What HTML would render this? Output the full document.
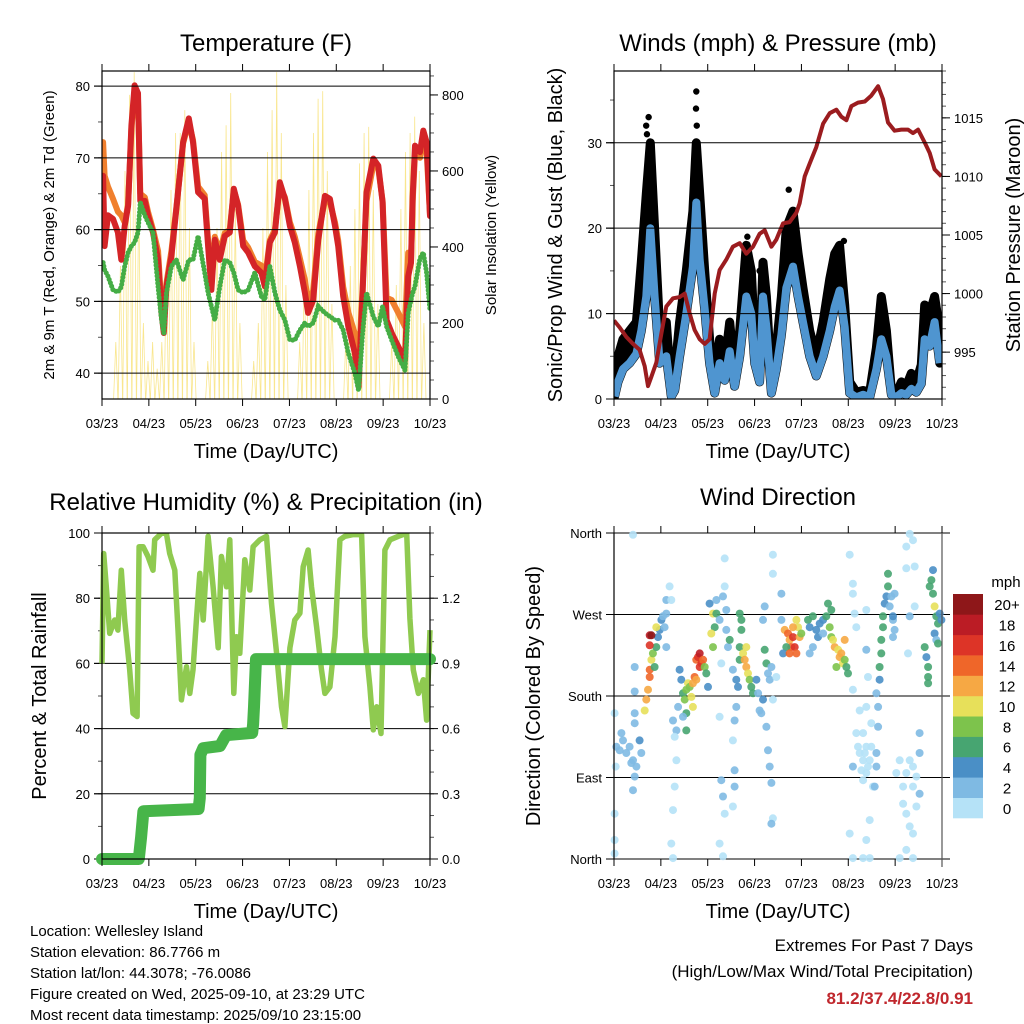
<!DOCTYPE html>
<html><head><meta charset="utf-8"><style>
html,body{margin:0;padding:0;background:#fff;}
svg{display:block;font-family:"Liberation Sans",Arial,sans-serif;}
</style></head><body>
<svg id="fig" width="1024" height="1024" viewBox="0 0 1024 1024">
<rect x="0" y="0" width="1024" height="1024" fill="#fff"/>
<g id="layer"></g>
<g font-size="15" fill="#000">
<text x="30" y="936">Location: Wellesley Island</text>
<text x="30" y="957">Station elevation: 86.7766 m</text>
<text x="30" y="978">Station lat/lon: 44.3078; -76.0086</text>
<text x="30" y="999">Figure created on Wed, 2025-09-10, at 23:29 UTC</text>
<text x="30" y="1020">Most recent data timestamp: 2025/09/10 23:15:00</text>
</g>
<g text-anchor="end">
<text x="973" y="951" font-size="17">Extremes For Past 7 Days</text>
<text x="973" y="977" font-size="17">(High/Low/Max Wind/Total Precipitation)</text>
<text x="973" y="1004" font-size="17" font-weight="bold" fill="#c0272d">81.2/37.4/22.8/0.91</text>
</g>
</svg>
<script>
// ---------- data ----------
var monthLabels = ["03/23","04/23","05/23","06/23","07/23","08/23","09/23","10/23"];
var tempDays = [0.7,1.7,3.9,7.2,10.4,12.6,14.8,17,19.2,21.3,23.5,25,27.9,30,33.3,36.6,38.8,40.3,42,45.3,48.5,52.9,56.6,59.4,62.7,67,69.2,71.4,73.6,76.8,80.1,83.4,86,88.8,92.1,95.4,99.7,104,106.2,109.5,112.8,116,119.3,122.6,125.8,129.1,132.4,134.5,137.8,141.1,145.4,148.7,152,154.1,157.4,160.7,165,167.4,170,172.6,177,180.3,183.1,185.7,189,193.3,197.7,199.8,201.6,202.7,204.2,207.5,209.6,211.8,214];
var temp2m = [67.5,57.7,62,61.5,59.6,55.8,60.5,63.3,74.5,80.1,79,64,64,62,59.6,55.8,48.4,45.6,52,56.3,62.8,72.2,75.5,72.2,65.2,64.3,57.7,51.6,58.6,55.8,59.1,59.6,65.7,63.3,57.7,56.8,54.9,54,52.1,58.2,59.6,66.6,64.3,60.5,58.2,54.9,51.2,48.4,50.2,58.6,64.7,64.3,60.5,57.7,50.7,46.5,42.8,38.1,51.2,65.2,69.9,68.9,63.8,47.4,45.6,43.7,41.8,53.5,55.4,64.7,71.7,70.8,73.8,72.2,61.9];
var temp9m = [72.2,67.5,66,64.3,62.5,62,61,63.5,74,79,78,65,64.5,62.5,60,57,49,46,52.5,57,63,72,75,72.5,66,64.8,58.5,52.5,59,57,59.5,60,65.5,63.5,58.5,57.5,55.5,55,53,58.5,60,66,64.5,61,59,56,53,50,51.5,59.5,64,63.8,61,58.5,52,48.5,45.5,41,52,64,69,68.5,64,50.5,50.2,48.4,46.5,56.8,55.4,64,70.5,70,72.5,71,62];
var dewpoint = [55.4,54.4,53.5,51.6,51.3,52,54.9,56.8,57.7,58.2,59.6,63.8,62,61,59.6,52,47.4,45.6,51.2,54.9,55.8,53,55.8,55.8,59.1,54,51.2,49.3,47.4,52,55.8,55.4,54,51.6,51.2,51.6,54,50.7,50.2,54.9,51.2,48.8,47.4,44.6,44.6,46,47,46.5,47,49.3,48.4,47.9,47.4,47.4,46,42.8,40,37.6,45.6,51.2,47.9,46.5,49.3,46.5,44.6,42.3,40.4,48.4,50.2,51.2,52.1,56,56.8,54,48.8];
var solarPeaks = [0,0,0,150,350,600,800,860,550,200,100,150,80,150,350,550,700,700,760,450,150,0,0,100,250,450,650,720,805,500,200,0,0,100,200,450,650,760,860,700,300,0,0,150,350,550,700,790,810,600,250,0,0,150,350,500,620,700,716,550,250,0,0,150,300,500,650,700,743,600,200,0];
var sampleDays = [0.4,2.6,5.9,10.2,14.6,17.8,21.1,23.7,26.5,29.8,34.1,37.4,39.6,42.8,47.2,51.5,53.7,55.9,59.2,62.4,65.7,68.9,72.2,75.5,78.7,82,86.3,89.6,91.8,95,97.2,99.4,102.7,105.9,109.2,112.4,116.8,120.1,123.3,127.7,132,136.4,140.7,144,147.2,150.5,153.8,158.1,162.5,166.8,171.2,174.4,177.7,181,184.2,187.5,190.7,194,197.3,200.5,202.7,206,209.2,212.5];
var windSpeed = [0.3,2,3.5,4.2,5.3,8,12,20,12,4.2,5,0.3,1,5,10,15.5,23,16.3,10.5,4.2,0.7,4.2,2.2,5.6,1.5,5,12,10,4.2,2,12,8.4,0.7,3.5,7.5,13,15.5,12,9,5,2.7,5,8,10.8,12.7,8.4,0.7,0.2,0.5,0.2,3.5,7,5,0.5,0.2,0.7,0.5,1.2,0.8,1.8,7,6.2,9,4.2];
var gustSpeed = [1,5,7,8,9,16,24,30,20,8,9,1,3,9,15,22,30,24,15,7,2,7,4,9,3,8,18,15,7,4,16,12,2,6,12,20,22,17,13,8,5,9,14,17,18,11,2,0.8,1,0.8,6,12,8,1,0.6,2,1.5,3,2,4,11,10,12,8];
var gustPeakDays = [21,21.5,22,22.6,53.7,53.5,54,53,87,95,114,150];
var gustPeakVals = [32,31,28,33,36,34,32,30,19,15,24.5,18.5];
var presDays = [0,3.7,8,12.4,16.7,20,22.2,24.4,27.6,30.9,34.1,38.5,42.8,46.1,49.4,52.6,55.9,59.2,62.4,65.7,68.9,73.3,77.6,82,86.3,90.7,95,98.3,102.7,105.9,110.3,114.6,119,121.1,124.4,127.7,132,136.4,140.7,145.1,148.3,151.6,154.9,159.2,163.6,167.9,172.3,175.5,178.8,183.1,187.5,191.8,195.1,198.4,202.7,206,209.2,213.6];
var pressure = [997.7,997.1,996.3,995.7,995.2,993.8,992.1,992.9,994.1,996.6,998.9,999.6,999.7,1000,998.3,996.9,996.1,995.7,996.1,1000,1002,1002.9,1004,1004.3,1003.4,1004,1005.1,1005.4,1004,1004.6,1006,1006.1,1006.9,1007.7,1010,1011.1,1012.5,1014.5,1015.4,1015.7,1015.1,1014.8,1016,1016.3,1016.4,1016.9,1017.7,1016.6,1014.6,1013.9,1014,1014,1013.7,1014,1012.9,1012,1010.6,1010];
var rhDays = [0,1.1,2.8,5,8.3,10.4,12.6,14.8,18.1,20.2,22.9,24.2,26.8,30,33.3,34.4,38.8,42,44.2,47.5,49.6,51.8,55.1,57.3,59.4,61.6,63.8,66,69.2,72.5,75.8,77.9,81.2,83.4,86,87.7,89.9,93.2,96.4,98.6,103,107.3,110.6,113.9,117.1,119.3,122.6,125.8,129.1,131.3,134.5,136.7,140,143.2,145.4,148.7,152,155.2,158.5,163.9,169.4,171.5,174.8,177,179.2,182,184.6,187.9,193.3,198.8,200.9,203.1,206.4,209.6,211.8,214];
var rhValues = [60,93.7,83.5,69.2,73.3,70.2,88.6,73.3,58,44.7,43.7,95.8,95.8,92.8,88.6,97.9,99.9,99.9,93.7,88.6,70.2,48.8,59,50.8,58,73.3,87.6,73.3,99,83.5,64.8,92.8,83.5,97.9,50.8,68.2,63.1,91.8,82.5,95.8,97.9,99,78.4,63.1,46.7,40.6,64.8,73.3,75.4,89.7,94.8,83.5,71.2,58,50.8,52.8,68.2,97.9,99,99.5,99.5,68.2,52.8,39.6,46.7,38.5,94.8,97.9,99,99.9,73.8,58,50.8,55,42.6,70.2];
var rainDays = [0,24,25.5,27,63,63.8,64.2,66,77,81,98,98.6,99.2,100.5,214];
var rainTotal = [0,0,0.1,0.22,0.23,0.28,0.48,0.51,0.52,0.57,0.58,0.62,0.7,0.92,0.92];
var dirDays = [1.5,3.7,5.9,8,10.2,12.4,14.6,16.7,17.8,4.8,11.3,13.5,12.4,1.1,0.4,0.4,0.4,0.4,12.4,13.5,13.5,13.5,13.5,
20,21.1,22.2,23.3,23.3,24.4,25.4,26.5,27.6,28.7,29.8,30.9,32,34.1,23.3,24.4,23.3,27.6,33,34.1,34.1,36.3,37.4,
38.5,40.7,41.8,39.6,40.7,39.6,38.5,37.4,38.5,
42.8,43.9,45,46.1,47.2,48.3,49.4,50.5,51.5,52.6,53.7,54.8,55.9,57,55.9,58.1,59.2,60.2,61.3,53.7,47.2,51.5,47.2,45,
62.4,64.6,66.8,65.7,63.5,64.6,66.8,68.9,71.1,72.2,73.3,74.4,75.5,70,68.9,70,71.1,72.2,68.9,71.1,72.2,73.3,
79.8,80.9,82,82,83.1,84.2,85.3,86.3,87.4,88.5,89.6,90.7,86.3,82,83.1,77.6,79.8,78.7,77.6,78.7,78.7,77.6,
92.9,94,95,96.1,97.2,98.3,99.4,100.5,101.6,102.7,97.2,98.3,99.4,100.5,101.6,102.7,103.7,102.7,103.7,109.2,109.2,103.7,103.7,105.9,
111.4,113.5,114.6,115.7,116.8,117.9,119,121.1,120.1,122.2,112.4,110.3,116.8,119,114.6,
126.6,127.7,129.8,132,133.1,134.2,136.4,138.5,139.6,140.7,141.8,141.8,127.7,129.8,136.4,
144,146.2,147.2,148.3,149.4,150.5,151.6,152.7,145.1,142.9,150.5,
153.8,155.9,155.9,157,158.1,155.9,160.3,162.5,164.6,166.8,162.5,160.3,164.6,169,158.1,155.9,164.6,167.9,166.8,164.6,153.8,155.9,162.5,166.8,164.6,164.6,165.7,159.2,163.6,161.4,165.7,167.9,162.5,
171.2,172.3,172.3,171.2,171.2,170.1,173.3,173.3,174.4,174.4,175.5,175.5,176.6,177.7,178.8,178.8,179.9,181,182,183.1,182,183.1,182,
184.2,186.4,188.6,190.7,192.9,195.1,195.1,197.3,190.7,192.9,195.1,197.3,199.4,199.4,199.4,188.6,191.8,190.7,196.2,190.7,192.9,195.1,192.9,196.2,195.1,186.4,190.7,
202.7,203.8,204.9,204.9,204.9,206,207.1,208.1,209.2,210.3,211.4,212.5,213.6,208.1,209.2,210.3,211.4];
var dirDeg = [124,120,131,117,124,109,102,131,117,139,106,91,76,102,161,50,21,6,358,212,161,150,185,
164,176,187,201,209,220,227,212,234,245,253,264,268,271,247,247,236,256,256,286,234,301,286,
153,142,168,135,109,80,54,17,1,
209,198,183,176,187,194,190,179,194,201,220,223,227,216,212,220,212,205,190,198,161,168,142,157,
282,271,271,256,249,234,286,264,290,301,253,234,242,216,157,87,69,50,17,3,332,275,
198,190,234,220,253,227,220,212,205,198,190,183,234,271,264,209,168,153,131,98,80,58,
198,183,164,161,176,231,216,205,198,212,264,279,146,120,102,84,45,39,176,293,264,336,315,201,
253,249,242,234,245,234,227,245,256,249,234,227,256,264,227,
264,256,268,253,245,260,264,268,282,256,245,275,227,234,249,
234,231,223,227,216,220,212,205,212,242,242,
336,304,293,271,256,187,164,139,124,109,109,117,95,80,139,102,168,150,43,21,28,1,1,1,275,231,201,124,117,98,102,124,87,
183,168,146,117,102,80,198,212,227,242,256,268,282,290,301,315,279,290,264,253,245,293,268,
95,109,80,95,109,102,80,91,50,36,28,58,72,117,139,61,227,321,323,345,359,352,268,279,1,1,10,
234,223,212,201,194,301,308,293,279,268,260,271,264,319,249,242,238];
var dirSpeed = [3,3,3,3,3,3.5,3,4,3,3,2.5,3.5,3,1,1,1,1,1,1,2.5,3,3.5,3,
10,12,13,14,15,10,8,7,6,5,5,4,3.5,3,19,20,17,11,3,2.5,2,1.5,1,
3.5,3,3.5,1,1,1,1,1,1,
4,5,6,8,8,10,9,11,12,14,15,17,18,16,17,14,9,7,4,13,6,11,7,3.5,
4,10,6,6,11,8,3.5,2,2,1.5,3.5,3.5,6,1,1,2,2.5,1,1,1,1,2,
4,4,7,6,7,11,12,12,10,9,7,6,11,7,6,2,3.5,2,1,2,3,1,
4,3.5,3.5,3,4,7,6,3.5,2.5,2,3.5,3.5,2,3.5,3.5,2.5,1,3,1,3.5,3.5,1,1,1,
13,14,13,15,16,16,14,13,10,8,7,4,12,11,14,
6,4,7,4,4,4,4,6,7,8,8,6,3.5,3.5,3.5,
12,11,13,12,10,9,7,7,8,11,12,
1,1,1,1,1,1,1,1,1,1,1,1,1,1,1,3,1,1,1,1,1,1,1,1,1,2,1,1,1,1,1,1,1,
3.5,3.5,3.5,3.5,3,2.5,5,6,6,6,6,6,5,5,7,6,3.5,3.5,3.5,2,2,2,4,
1,1,1,1,1,1,1,1,1,1,1,1,3,3,3,1,1,1,1,1,1,1,2,1,1,1,1,
6,5,7,6,6,6,7,6,10,6,6,5,4,4,4,3.5,7];
var speedBinLabels = ["0","2","4","6","8","10","12","14","16","18","20+"];
var speedColors = ["#b5e2f7","#7fbae3","#4a8fc6","#47a571","#7dc34c","#e7e05a","#f6a844","#ef6629","#dd3427","#bb1c25","#8e1719"];

// ---------- helpers ----------
var NS="http://www.w3.org/2000/svg";
var layer=document.getElementById('layer');
function mk(tag, attrs, parent){var e=document.createElementNS(NS,tag);for(var k in attrs)e.setAttribute(k,attrs[k]);(parent||layer).appendChild(e);return e;}
function scale(d0,d1,r0,r1){return function(v){return r0+(v-d0)/(d1-d0)*(r1-r0);};}
function pts(xs,ys,fx,fy){var s=[];for(var i=0;i<xs.length;i++)s.push(fx(xs[i]).toFixed(1)+','+fy(ys[i]).toFixed(1));return s.join(' ');}
var DAYS=214;

function panel(name){
  var g=mk('g',{});
  
  
  return g;
}
function frame(g,x0,x1,y0,y1){
  var r=mk('rect',{x:x0,y:y0,width:x1-x0,height:y1-y0,fill:'none',stroke:'#000','stroke-width':1.2},g);
  
  
}
function xAxis(g,x0,x1,y0,y1,fx){
  var ax=mk('g',{},g);
  
  
  for(var i=0;i<monthLabels.length;i++){
    var x=fx(i*DAYS/7);
    mk('line',{x1:x,x2:x,y1:y1,y2:y1+7,stroke:'#000','stroke-width':1},ax);
    mk('line',{x1:x,x2:x,y1:y0,y2:y0-7,stroke:'#000','stroke-width':1},ax);
    var t=mk('text',{x:x,y:y1+29,'font-size':13,'text-anchor':'middle'},ax);
    t.textContent=monthLabels[i];
    
    
  }
  var tt=mk('text',{x:(x0+x1)/2,y:y1+59,'font-size':20,'text-anchor':'middle'},ax);
  tt.textContent='Time (Day/UTC)';
  
  
}
function yAxis(g,side,x0,x1,y0,y1,fy,majors,labels,minors,grid,gridR){
  var ax=mk('g',{},g);
  
  
  var xe=side==='left'?x0:x1, dir=side==='left'?-1:1;
  for(var i=0;i<minors.length;i++){var y=fy(minors[i]);if(y<y0-0.5||y>y1+0.5)continue;
    mk('line',{x1:xe,x2:xe+dir*4,y1:y,y2:y,stroke:'#555','stroke-width':1},ax);}
  for(var i=0;i<majors.length;i++){var y=fy(majors[i]);
    mk('line',{x1:xe,x2:xe+dir*8,y1:y,y2:y,stroke:'#000','stroke-width':1},ax);
    if(grid) mk('line',{x1:x0-8,x2:x1+(gridR?8:0),y1:y,y2:y,stroke:'#000','stroke-width':1},ax);
    var t=mk('text',{x:xe+dir*12,y:y+5,'font-size':13,'text-anchor':side==='left'?'end':'start'},ax);
    t.textContent=labels[i];
    
    
  }
}
function range(a,b,s){var r=[];for(var v=a;v<=b+1e-9;v+=s)r.push(Math.round(v*1000)/1000);return r;}
function title(g,x,y,txt,name){var t=mk('text',{x:x,y:y,'font-size':24,'text-anchor':'middle'},g);t.textContent=txt;}
function vtitle(g,x,y,txt,size,name){var t=mk('text',{x:x,y:y,'font-size':size,'text-anchor':'middle',transform:'rotate(-90 '+x+' '+y+')'},g);t.textContent=txt;}

// ---------- Panel 1: Temperature ----------
(function(){
  var x0=102,x1=430,y0=71,y1=399;
  var g=panel('temperature-panel');
  var fx=scale(0,DAYS,x0,x1), fy=scale(36.4,82.1,y1,y0), fs=scale(0,863,y1,y0);
  var clip=mk('clipPath',{id:'c1'},g);mk('rect',{x:x0,y:y0,width:x1-x0,height:y1-y0},clip);
  var d=mk('g',{'clip-path':'url(#c1)'},g);
  var sp=[];
  for(var i=0;i<solarPeaks.length;i++){var c=i*3;sp.push(fx(c-1.4).toFixed(1)+','+fs(0).toFixed(1)+' '+fx(c).toFixed(1)+','+fs(solarPeaks[i]).toFixed(1)+' '+fx(c+1.4).toFixed(1)+','+fs(0).toFixed(1));}
  var sl=mk('polyline',{points:sp.join(' '),fill:'none',stroke:'#f8e27a','stroke-width':0.8,'stroke-opacity':0.85},d);
  
  
  var o=mk('polyline',{points:pts(tempDays,temp9m,fx,fy),fill:'none',stroke:'#f07f2d','stroke-width':6,'stroke-linejoin':'round','stroke-linecap':'round'},d);
  
  
  var r=mk('polyline',{points:pts(tempDays,temp2m,fx,fy),fill:'none',stroke:'#d42427','stroke-width':6,'stroke-linejoin':'round','stroke-linecap':'round'},d);
  
  
  var gr=mk('polyline',{points:pts(tempDays,dewpoint,fx,fy),fill:'none',stroke:'#45ad45','stroke-width':5,'stroke-linecap':'round','stroke-dasharray':'0.1 3.5'},d);
  
  
  var tl=range(40,80,10);
  yAxis(g,'left',x0,x1,y0,y1,fy,tl,tl.map(String),range(40,80,5),true,false);
  var sl2=range(0,800,200);
  yAxis(g,'right',x0,x1,y0,y1,fs,sl2,sl2.map(String),range(0,850,50),false,false);
  xAxis(g,x0,x1,y0,y1,fx);
  frame(g,x0,x1,y0,y1);
  title(g,266,51,'Temperature (F)','temperature-title');
  vtitle(g,54,235,'2m & 9m T (Red, Orange) & 2m Td (Green)',15,'temperature-y-title');
  vtitle(g,496,235,'Solar Insolation (Yellow)',15,'solar-y-title');
})();

// ---------- Panel 2: Winds & Pressure ----------
(function(){
  var x0=614,x1=942,y0=71,y1=399;
  var g=panel('winds-panel');
  var fx=scale(0,DAYS,x0,x1), fy=scale(0,38.4,y1,y0), fp=scale(991,1019,y1,y0);
  var clip=mk('clipPath',{id:'c2'},g);mk('rect',{x:x0,y:y0,width:x1-x0,height:y1-y0},clip);
  var d=mk('g',{'clip-path':'url(#c2)'},g);
  var up=[],dn=[];
  for(var i=0;i<sampleDays.length;i++){up.push(fx(sampleDays[i]).toFixed(1)+','+fy(gustSpeed[i]).toFixed(1));}
  for(var i=sampleDays.length-1;i>=0;i--){dn.push(fx(sampleDays[i]).toFixed(1)+','+fy(windSpeed[i]).toFixed(1));}
  var area=mk('polygon',{points:up.concat(dn).join(' '),fill:'#000',stroke:'#000','stroke-width':9,'stroke-linejoin':'round'},d);
  
  
  for(var i=0;i<sampleDays.length;i++){
    var c=mk('circle',{cx:fx(sampleDays[i]),cy:fy(gustSpeed[i]),r:4,fill:'#000'},d);
    
    
  }
  for(var i=0;i<gustPeakDays.length;i++){
    var c=mk('circle',{cx:fx(gustPeakDays[i]),cy:fy(gustPeakVals[i]),r:3.2,fill:'#000'},d);
    
    
  }
  var b=mk('polyline',{points:pts(sampleDays,windSpeed,fx,fy),fill:'none',stroke:'#4f95d0','stroke-width':8,'stroke-linejoin':'round'},d);
  
  
  var p=mk('polyline',{points:pts(presDays,pressure,fx,fp),fill:'none',stroke:'#9b1c1f','stroke-width':4,'stroke-linejoin':'round'},d);
  
  
  var wl=range(0,30,10);
  yAxis(g,'left',x0,x1,y0,y1,fy,wl,wl.map(String),range(0,35,5),true,false);
  var pl=range(995,1015,5);
  yAxis(g,'right',x0,x1,y0,y1,fp,pl,pl.map(String),range(991,1019,1),false,false);
  xAxis(g,x0,x1,y0,y1,fx);
  frame(g,x0,x1,y0,y1);
  title(g,778,51,'Winds (mph) & Pressure (mb)','winds-title');
  vtitle(g,562,235,'Sonic/Prop Wind & Gust (Blue, Black)',20,'wind-y-title');
  vtitle(g,1020,235,'Station Pressure (Maroon)',20,'pressure-y-title');
})();

// ---------- Panel 3: RH & Precip ----------
(function(){
  var x0=102,x1=430,y0=533,y1=859;
  var g=panel('humidity-panel');
  var fx=scale(0,DAYS,x0,x1), fy=scale(0,100,y1,y0), fr=scale(0,1.5,y1,y0);
  var rl=range(0,100,20);
  yAxis(g,'left',x0,x1,y0,y1,fy,rl,rl.map(String),range(0,100,10),true,false);
  var pl=range(0,1.2,0.3);
  yAxis(g,'right',x0,x1,y0,y1,fr,pl,pl.map(function(v){return v.toFixed(1);}),range(0,1.5,0.1),false,false);
  var clip=mk('clipPath',{id:'c3'},g);mk('rect',{x:x0-8,y:y0,width:x1-x0+16,height:y1-y0+8},clip);
  var d=mk('g',{'clip-path':'url(#c3)'},g);
  var h=mk('polyline',{points:pts(rhDays,rhValues,fx,fy),fill:'none',stroke:'#8fca50','stroke-width':5.5,'stroke-linejoin':'round'},d);
  
  
  var r=mk('polyline',{points:pts(rainDays,rainTotal,fx,fr),fill:'none',stroke:'#47b549','stroke-width':12,'stroke-linejoin':'round','stroke-linecap':'round'},d);
  
  
  xAxis(g,x0,x1,y0,y1,fx);
  frame(g,x0,x1,y0,y1);
  title(g,266,510,'Relative Humidity (%) & Precipitation (in)','humidity-title');
  vtitle(g,46,696,'Percent & Total Rainfall',20,'humidity-y-title');
})();

// ---------- Panel 4: Wind Direction ----------
(function(){
  var x0=614,x1=942,y0=533,y1=859;
  var g=panel('wind-direction-panel');
  var fx=scale(0,DAYS,x0,x1), fy=scale(0,360,y1,y0);
  var dl=[0,90,180,270,360];
  yAxis(g,'left',x0,x1,y0,y1,fy,dl,['North','East','South','West','North'],[],true,true);
  var d=mk('g',{},g);
  for(var i=0;i<dirDays.length;i++){
    var bin=Math.min(10,Math.floor(dirSpeed[i]/2));
    var c=mk('circle',{cx:fx(dirDays[i]).toFixed(1),cy:fy(dirDeg[i]).toFixed(1),r:4,fill:speedColors[bin],'fill-opacity':0.9},d);
    
    
  }
  xAxis(g,x0,x1,y0,y1,fx);
  var fr=mk('line',{x1:x0,x2:x0,y1:y0,y2:y1,stroke:'#000','stroke-width':1.2},g);
  
  
  var fr2=mk('line',{x1:x1,x2:x1,y1:y0,y2:y1+8,stroke:'#555','stroke-width':1.2},g);
  
  
  title(g,778,505,'Wind Direction','wind-direction-title');
  vtitle(g,540,696,'Direction (Colored By Speed)',20,'direction-y-title');
  var cb=mk('g',{},g);
  
  
  var top=594,bot=818,h=(bot-top)/speedColors.length;
  for(var i=0;i<speedColors.length;i++){
    var y=bot-(i+1)*h;
    var r=mk('rect',{x:953,y:y.toFixed(1),width:30,height:(h+0.3).toFixed(1),fill:speedColors[i]},cb);
    
    
    var t=mk('text',{x:1007,y:(y+h/2+6).toFixed(1),'font-size':15,'text-anchor':'middle'},cb);
    t.textContent=speedBinLabels[i];
    
    
  }
  var u=mk('text',{x:1006,y:587,'font-size':15,'text-anchor':'middle'},cb);
  u.textContent='mph';
  
  
})();
</script>
</body></html>
